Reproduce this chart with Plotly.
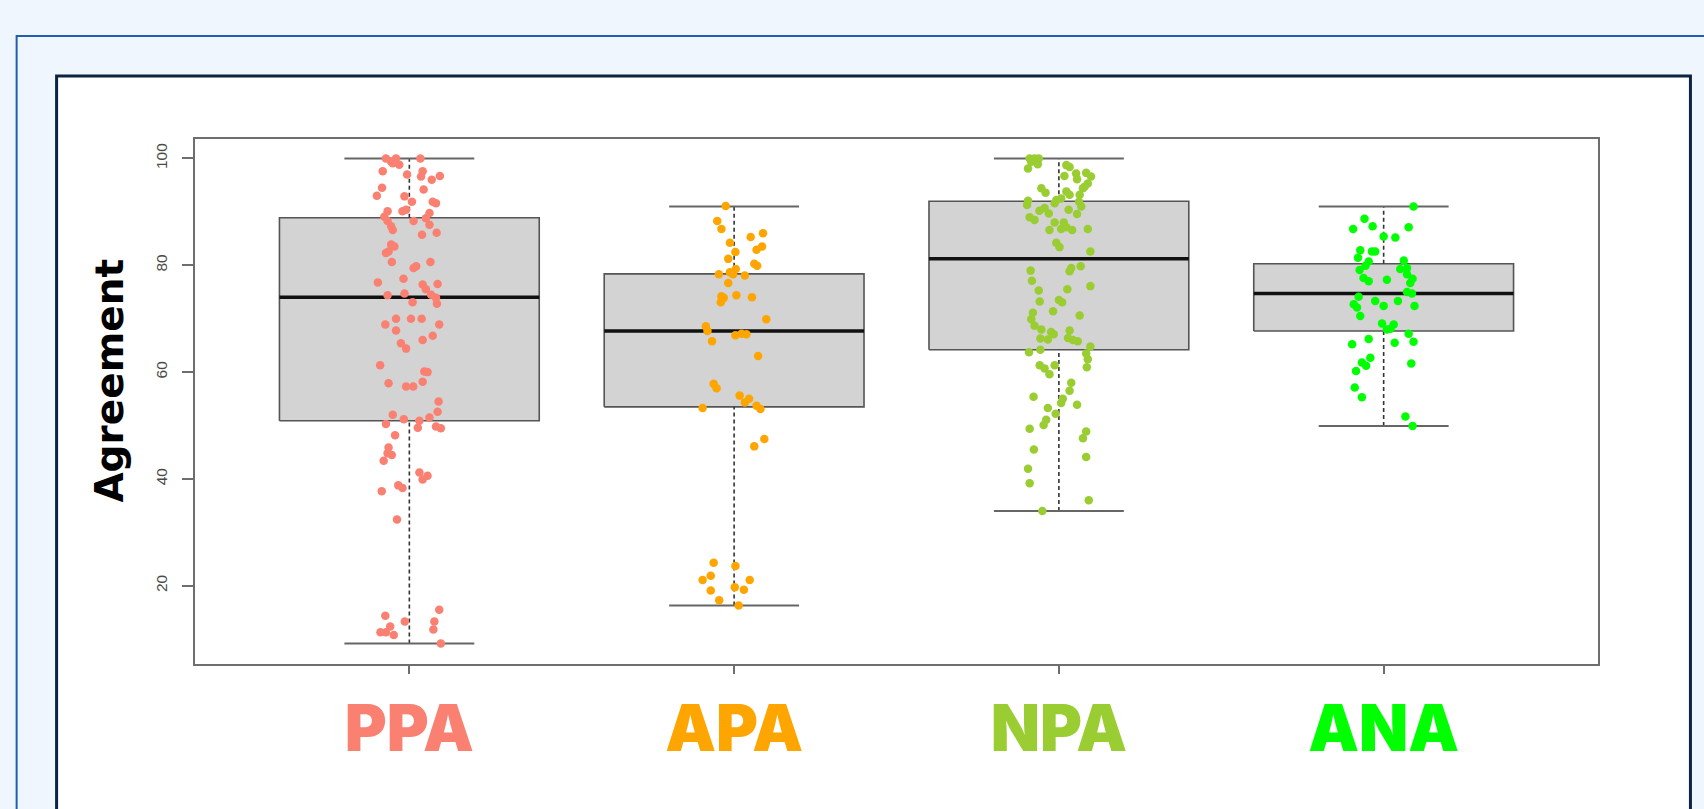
import plotly.graph_objects as go

# ---- data -------------------------------------------------------------
groups = ["PPA", "APA", "NPA", "ANA"]
group_colors = ["#FA8072", "#FFA500", "#9ACD32", "#00FF00"]

# five-number summaries (lower whisker, Q1, median, Q3, upper whisker)
whisker_low = [9.2, 16.3, 34.0, 49.9]
q1 = [50.9, 53.5, 64.2, 67.7]
median = [74.0, 67.7, 81.2, 74.7]
q3 = [88.9, 78.4, 92.0, 80.3]
whisker_high = [100.0, 91.0, 100.0, 91.0]

# individual agreement scores and their horizontal jitter offsets
ppa_values = [100.0, 99.4, 100.0, 99.1, 98.8, 100.0, 97.6, 97.0, 97.6, 96.6, 96.0, 96.7,
              94.5, 93.0, 94.2, 92.9, 91.9, 91.9, 91.6, 90.4, 90.1, 90.1, 89.8, 89.1,
              88.8, 88.3, 88.3, 87.3, 86.6, 87.6, 86.1, 85.7, 83.9, 83.5, 82.6, 82.3,
              80.6, 80.6, 79.5, 79.8, 76.8, 77.5, 76.4, 76.5, 74.4, 74.7, 75.5, 74.5,
              73.9, 73.1, 72.8, 70.0, 70.0, 70.0, 68.9, 67.8, 68.9, 66.8, 65.4, 64.4,
              66.0, 61.3, 60.1, 60.0, 57.9, 57.3, 57.3, 58.2, 54.5, 52.6, 52.0, 51.2,
              50.9, 51.5, 50.3, 49.6, 49.8, 49.5, 48.2, 45.9, 44.8, 44.5, 43.4, 41.2,
              40.6, 39.9, 37.7, 38.8, 38.3, 32.4, 14.4, 15.5, 13.3, 13.3, 12.4, 11.8,
              11.3, 11.3, 10.8, 9.2]
ppa_jitter = [-0.072, -0.056, -0.041, -0.051, -0.031, 0.034, -0.082, -0.007, 0.041, 0.036, 0.069, 0.094,
              -0.084, -0.100, 0.044, -0.015, 0.008, 0.072, 0.082, -0.010, -0.067, -0.021, 0.062, -0.077,
              0.051, 0.013, -0.067, -0.056, -0.051, 0.062, 0.084, 0.039, -0.056, -0.046, -0.064, -0.072,
              -0.054, 0.065, 0.013, 0.021, -0.097, -0.018, 0.041, 0.087, -0.067, -0.015, 0.051, 0.067,
              0.082, 0.010, 0.085, -0.041, 0.005, 0.038, -0.074, -0.041, 0.092, 0.072, -0.026, -0.010,
              0.041, -0.090, 0.046, 0.056, -0.064, -0.010, 0.012, 0.041, 0.090, 0.087, -0.051, -0.017,
              0.031, 0.062, -0.072, 0.026, 0.082, 0.097, -0.044, -0.064, -0.067, -0.054, -0.079, 0.031,
              0.056, 0.041, -0.085, -0.034, -0.021, -0.038, -0.074, 0.092, -0.014, 0.077, -0.059, 0.074,
              -0.089, -0.072, -0.048, 0.097]

apa_values = [91.1, 88.3, 86.8, 86.0, 85.3, 84.2, 83.5, 82.9, 82.5, 81.2, 80.3, 79.9,
              79.3, 78.7, 78.3, 78.3, 78.1, 76.7, 74.2, 73.9, 73.1, 74.4, 74.0, 69.9,
              68.6, 67.7, 66.9, 67.2, 67.1, 65.8, 63.0, 57.8, 57.0, 55.6, 54.3, 55.0,
              53.7, 53.1, 53.3, 47.5, 46.1, 24.3, 23.7, 21.9, 21.1, 21.1, 19.1, 19.75,
              19.25, 17.3, 16.3]
apa_jitter = [-0.026, -0.052, -0.039, 0.089, 0.051, -0.013, 0.086, 0.069, 0.004, -0.018, 0.062, 0.071,
              0.005, -0.013, -0.003, -0.047, 0.033, -0.018, -0.039, -0.032, -0.041, 0.007, 0.055, 0.099,
              -0.087, -0.082, 0.004, 0.023, 0.038, -0.068, 0.074, -0.063, -0.054, 0.017, 0.033, 0.046,
              0.069, 0.081, -0.097, 0.093, 0.062, -0.063, 0.004, -0.072, -0.097, 0.048, -0.072, 0.002,
              0.030, -0.046, 0.014]

npa_values = [100.0, 100.0, 100.0, 99.4, 98.9, 98.1, 98.75, 98.4, 97.2, 97.3, 96.6, 96.7,
              96.1, 95.3, 94.4, 93.6, 93.8, 93.2, 94.4, 94.7, 93.2, 91.9, 92.2, 92.5,
              91.6, 92.1, 91.3, 91.0, 90.2, 90.7, 89.7, 90.4, 89.6, 89.0, 88.5, 88.0,
              88.0, 87.1, 86.6, 86.8, 86.6, 86.8, 84.2, 83.4, 82.6, 79.0, 78.9, 79.5,
              79.8, 77.1, 76.1, 75.3, 75.5, 73.2, 73.5, 73.1, 71.4, 70.6, 71.1, 69.9,
              68.7, 68.0, 67.5, 67.1, 67.8, 66.3, 66.1, 66.4, 66.0, 65.8, 63.7, 64.2,
              64.8, 63.5, 62.4, 60.9, 61.3, 60.7, 59.6, 61.3, 58.0, 56.5, 55.4, 55.0,
              54.2, 53.9, 53.3, 52.2, 51.1, 50.1, 49.4, 48.9, 47.6, 45.5, 44.1, 41.9,
              39.2, 36.0, 34.0]
npa_jitter = [-0.090, -0.075, -0.062, -0.085, -0.065, -0.095, 0.023, 0.033, 0.053, 0.084, 0.099, 0.017,
              0.056, 0.089, -0.054, -0.041, 0.023, 0.033, 0.074, 0.079, 0.064, 0.062, -0.008, 0.007,
              -0.013, -0.095, -0.098, 0.069, -0.060, -0.044, -0.031, 0.030, 0.056, -0.090, -0.075, -0.013,
              0.015, 0.023, -0.029, 0.007, 0.041, 0.089, -0.008, 0.002, 0.097, -0.087, 0.033, 0.038,
              0.067, -0.083, 0.097, -0.062, 0.026, -0.059, 0.000, 0.010, -0.018, 0.064, -0.080, -0.085,
              -0.075, -0.054, -0.024, -0.016, 0.033, -0.057, -0.034, 0.028, 0.043, 0.058, -0.092, -0.057,
              0.097, 0.084, 0.089, 0.086, -0.059, -0.044, -0.029, -0.013, 0.038, 0.033, -0.078, 0.012,
              0.007, 0.056, -0.034, -0.010, -0.039, -0.047, -0.090, 0.084, 0.074, -0.077, 0.084, -0.095,
              -0.090, 0.092, -0.051]

ana_values = [91.0, 88.7, 87.3, 86.8, 87.1, 85.4, 85.2, 82.8, 82.6, 82.6, 81.4, 80.7,
              79.9, 80.9, 79.3, 79.5, 79.1, 78.3, 77.5, 76.7, 77.6, 77.0, 77.3, 75.0,
              74.7, 74.1, 72.7, 72.1, 70.5, 73.3, 72.4, 73.3, 72.4, 69.1, 68.0, 68.9,
              68.1, 67.2, 65.7, 65.5, 66.2, 65.2, 62.7, 61.8, 61.2, 61.6, 60.2, 57.1,
              55.3, 51.7, 49.9]
ana_jitter = [0.092, -0.059, -0.034, -0.094, 0.077, 0.000, 0.036, -0.072, -0.036, -0.026, -0.079, -0.046,
              -0.056, 0.062, 0.051, 0.072, -0.074, 0.072, 0.089, 0.082, -0.062, -0.046, 0.010, 0.072,
              0.087, -0.077, -0.092, -0.082, -0.072, -0.026, 0.000, 0.044, 0.095, -0.005, 0.010, 0.031,
              0.021, 0.077, 0.092, 0.034, -0.046, -0.097, -0.041, -0.067, -0.054, 0.085, -0.085, -0.089,
              -0.067, 0.067, 0.089]

y_ticks = [20, 40, 60, 80, 100]

# ---- figure -----------------------------------------------------------
W, H = 1704, 809
M_L, M_R, M_T, M_B = 194.5, 105.5, 139, 145
PW, PH = W - M_L - M_R, H - M_T - M_B

def px_x(px):
    return (px - M_L) / PW

def px_y(py):
    return (H - M_B - py) / PH

BOX_HALF = 0.4
CAP_HALF = 0.2

fig = go.Figure()
positions = list(range(1, len(groups) + 1))

# boxes
for pos, lo_q, hi_q in zip(positions, q1, q3):
    fig.add_trace(go.Scatter(
        x=[pos - BOX_HALF, pos + BOX_HALF, pos + BOX_HALF, pos - BOX_HALF, pos - BOX_HALF],
        y=[lo_q, lo_q, hi_q, hi_q, lo_q],
        mode="lines", fill="toself", fillcolor="#D3D3D3",
        line=dict(color="#555555", width=1.6), hoverinfo="skip", showlegend=False))

# dashed whiskers
wx, wy = [], []
for pos, lo, lo_q, hi_q, hi in zip(positions, whisker_low, q1, q3, whisker_high):
    wx += [pos, pos, None, pos, pos, None]
    wy += [lo, lo_q, None, hi_q, hi, None]
fig.add_trace(go.Scatter(x=wx, y=wy, mode="lines",
                         line=dict(color="#333333", width=1.6, dash="4px,3px"),
                         hoverinfo="skip", showlegend=False))

# whisker caps
cx, cy = [], []
for pos, lo, hi in zip(positions, whisker_low, whisker_high):
    cx += [pos - CAP_HALF, pos + CAP_HALF, None, pos - CAP_HALF, pos + CAP_HALF, None]
    cy += [lo, lo, None, hi, hi, None]
fig.add_trace(go.Scatter(x=cx, y=cy, mode="lines",
                         line=dict(color="#666666", width=2),
                         hoverinfo="skip", showlegend=False))

# medians
mx, my = [], []
for pos, med in zip(positions, median):
    mx += [pos - BOX_HALF, pos + BOX_HALF, None]
    my += [med, med, None]
fig.add_trace(go.Scatter(x=mx, y=my, mode="lines",
                         line=dict(color="#111111", width=3.5),
                         hoverinfo="skip", showlegend=False))

# jittered points
all_values = [ppa_values, apa_values, npa_values, ana_values]
all_jitter = [ppa_jitter, apa_jitter, npa_jitter, ana_jitter]
for pos, name, color, vals, jit in zip(positions, groups, group_colors, all_values, all_jitter):
    fig.add_trace(go.Scatter(
        x=[pos + j for j in jit], y=vals, mode="markers", name=name,
        marker=dict(color=color, size=8.5, line=dict(width=0)),
        showlegend=False))

# page frames
shapes = [
    dict(type="rect", xref="paper", yref="paper", layer="below",
         x0=px_x(16), x1=px_x(W + 60), y0=px_y(36), y1=px_y(H + 60),
         line=dict(color="#1F5FAD", width=2), fillcolor="rgba(0,0,0,0)"),
    dict(type="rect", xref="paper", yref="paper", layer="below",
         x0=px_x(56), x1=px_x(1691), y0=px_y(76), y1=px_y(H + 60),
         line=dict(color="#0C2341", width=3), fillcolor="#FFFFFF"),
]

tick_text = [f'<span style="color:{c}">{g}</span>' for g, c in zip(groups, group_colors)]

fig.update_layout(
    width=W, height=H, autosize=False,
    margin=dict(l=M_L, r=M_R, t=M_T, b=M_B, pad=0),
    paper_bgcolor="#EFF6FE", plot_bgcolor="#FFFFFF",
    shapes=shapes,
    xaxis=dict(range=[0.34, 4.66], tickmode="array", tickvals=positions, ticktext=tick_text,
               showgrid=False, zeroline=False, showline=True, mirror=True,
               linecolor="#6E6E6E", linewidth=2, ticks="outside", ticklen=8,
               tickcolor="#6E6E6E", tickwidth=2, ticklabelstandoff=0,
               tickfont=dict(family="Inter", size=64, weight=900)),
    yaxis=dict(range=[5.36, 103.64], tickmode="array", tickvals=y_ticks,
               ticktext=[str(t) for t in y_ticks],
               showgrid=False, zeroline=False, showline=True, mirror=True,
               linecolor="#6E6E6E", linewidth=2, ticks="outside", ticklen=11,
               tickcolor="#6E6E6E", tickwidth=1.5, tickangle=-90, ticklabelstandoff=9,
               tickfont=dict(family="Liberation Sans", size=15.5, color="#4A4A4A")),
    annotations=[dict(text="<b>Agreement</b>", xref="paper", yref="paper",
                      x=px_x(108), y=px_y(381), showarrow=False, textangle=-90,
                      font=dict(family="DejaVu Sans", size=39, color="#000000"),
                      xanchor="center", yanchor="middle")],
)

fig.write_html("out.html", config={"displayModeBar": False})
